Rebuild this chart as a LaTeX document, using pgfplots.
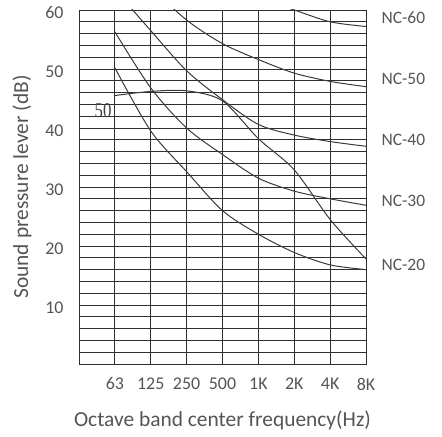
\documentclass[border=0pt]{standalone}
\usepackage{fontspec}
\setmainfont{Carlito}
\newfontfamily\handfont{Liberation Serif}
\usepackage{pgfplots}
\pgfplotsset{compat=1.18}
\definecolor{txt}{HTML}{555555}
\definecolor{gridc}{HTML}{2E2E2E}
\definecolor{curve}{HTML}{3A3A3A}

\begin{document}
\begin{tikzpicture}[nc/.style={draw=curve, line width=1pt, smooth, mark=none}]
\path[use as bounding box] (-79bp,-73bp) rectangle (363bp,364bp);
\begin{axis}[
  at={(0,0)}, anchor=south west,
  scale only axis, width=287bp, height=354bp,
  xmin=0, xmax=8, ymin=0, ymax=60,
  xtick={1,...,8}, xticklabels={63,125,250,500,1K,2K,4K,8K},
  ytick={10,20,...,60},
  minor ytick={2,4,...,58},
  grid=both,
  major grid style={gridc, line width=0.9pt},
  minor grid style={gridc, line width=0.9pt},
  axis line style={gridc, line width=0.9pt},
  major tick length=0pt, minor tick length=0pt,
  tick label style={txt, font=\fontsize{18}{18}\selectfont},
  xticklabel style={anchor=center, yshift=-20bp},
  yticklabel style={anchor=east, xshift=-12bp, yshift=-3bp},
  /pgf/number format/assume math mode=true,
  xlabel={Octave band center frequency(Hz)},
  ylabel={Sound pressure lever (dB)},
  label style={txt, font=\fontsize{21.5}{21.5}\selectfont},
  xlabel style={at={(axis description cs:0.5,-0.158)}, anchor=center},
  ylabel style={at={(axis description cs:-0.1986,0.5)}, anchor=center},
  clip mode=individual,
]
% NC-60
\addplot[nc] coordinates {(3,67) (4,64) (5,62) (6,60) (7,58) (8,57.2)};
% NC-50
\addplot[nc] coordinates {(1,71) (2,64) (3,58.3) (4,54.3) (5,51.6) (6,49.3) (7,47.9) (8,47)};
% NC-40
\addplot[nc] coordinates {(1,63.5) (2,56.5) (3,49.7) (4,44.8) (5,40.6) (6,38.8) (7,37.7) (8,36.9)};
% NC-30
\addplot[nc] coordinates {(1,56.3) (2,46.8) (3,40) (4,35.5) (5,31.5) (6,29.3) (7,28) (8,26.9)};
% NC-20
\addplot[nc] coordinates {(1,50.2) (2,39.5) (3,32.6) (4,26) (5,22) (6,18.9) (7,16.8) (8,16)};
% measured spectrum
\addplot[nc] coordinates {(1,45.5) (2,46.2) (3,46.3) (4,44.6) (5,38.2) (6,32.9) (7,24.5) (8,17.8)};

\node[txt, anchor=west, xshift=12bp, font=\fontsize{17.5}{17.5}\selectfont] at (axis cs:8,58.7) {NC-60};
\node[txt, anchor=west, xshift=12bp, font=\fontsize{17.5}{17.5}\selectfont] at (axis cs:8,48.3) {NC-50};
\node[txt, anchor=west, xshift=12bp, font=\fontsize{17.5}{17.5}\selectfont] at (axis cs:8,37.9) {NC-40};
\node[txt, anchor=west, xshift=12bp, font=\fontsize{17.5}{17.5}\selectfont] at (axis cs:8,27.6) {NC-30};
\node[txt, anchor=west, xshift=12bp, font=\fontsize{17.5}{17.5}\selectfont] at (axis cs:8,16.8) {NC-20};
\node[text=black!75, xscale=0.8, font=\handfont\fontsize{21}{21}\selectfont] at (axis cs:0.67,42.9) {50};
\end{axis}
\end{tikzpicture}
\end{document}
